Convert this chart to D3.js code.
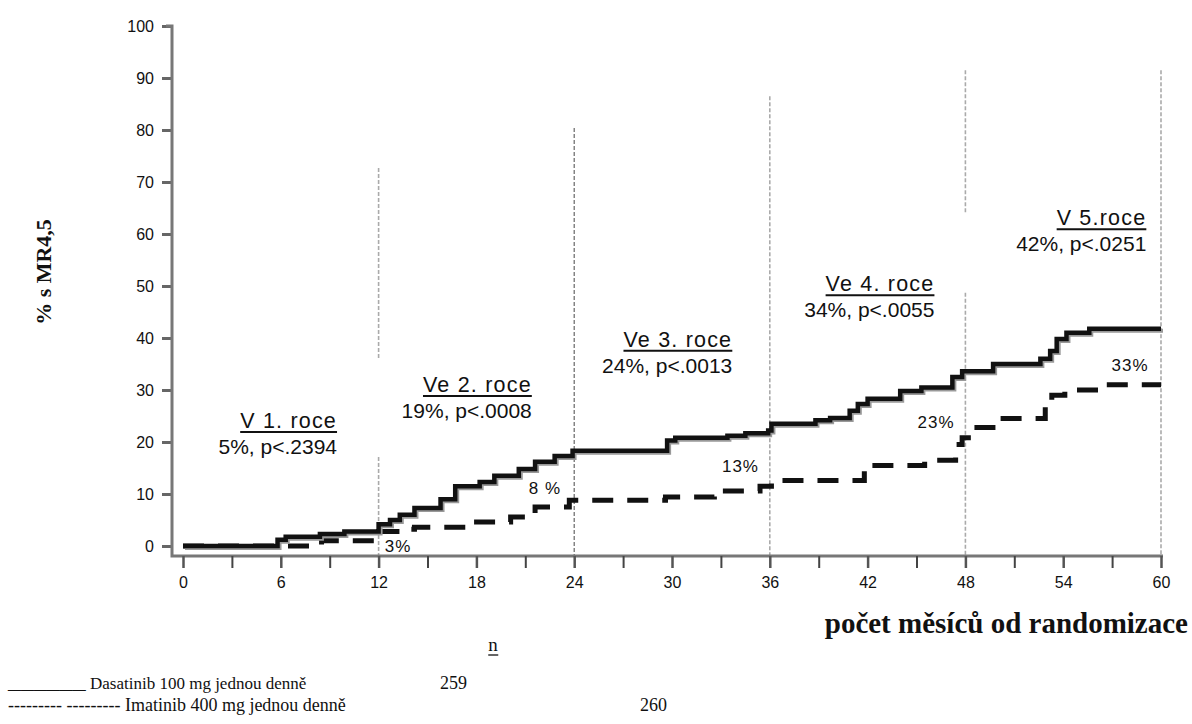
<!DOCTYPE html>
<html><head><meta charset="utf-8">
<script src="https://cdn.jsdelivr.net/npm/d3@7"></script>
<style>body{margin:0;background:#fff}svg{display:block}</style>
</head><body>
<svg id="c" width="1192" height="724"></svg>
<script>
// ---- data ----
const yTicks = [0,10,20,30,40,50,60,70,80,90,100];
const xTickLabels = [0,6,12,18,24,30,36,42,48,54,60];
const xMinorTicks = [3,9,15,21,27,33,39,45,51,57];
const yearLines = [12,24,36,48,60];

const dasaMonths = [0,5.8,6.3,8.4,9.9,12.0,12.7,13.3,14.2,15.8,16.7,18.2,19.1,20.6,21.6,22.8,23.9,29.7,30.2,33.4,34.5,35.9,36.1,38.8,39.7,40.9,41.4,42.0,44.0,45.3,47.2,47.8,49.7,52.6,53.2,53.6,54.2,55.6,60];
const dasaValues = [0,1.2,1.8,2.3,2.8,4.2,5.0,6.0,7.3,9.0,11.5,12.3,13.5,14.8,16.2,17.3,18.3,20.3,20.8,21.2,21.7,22.2,23.5,24.2,24.6,26.0,27.3,28.3,29.8,30.5,32.5,33.6,35.0,36.0,37.5,39.8,41.0,41.8,41.8];

const imaMonths = [0,8.5,12.0,13.7,14.2,17.6,20.1,21.6,23.7,29.6,32.6,35.4,36.1,41.8,45.5,47.4,47.8,48.4,50.1,52.9,53.3,54.1,56.3,60];
const imaValues = [0,1.0,2.8,3.2,3.6,4.6,5.6,7.5,8.8,9.4,10.6,11.5,12.6,15.5,16.5,19.5,20.8,22.8,24.5,27.5,29.0,30.0,31.0,31.0];

const pctLabels = ["3%","8 %","13%","23%","33%"];
const pctMonths = [13.2,22.2,34.2,46.2,58.1];
const pctValues = [-0.3,10.8,15.0,23.5,34.6];

const annoTitles = ["V 1. roce","Ve 2. roce","Ve 3. roce","Ve 4. roce","V 5.roce"];
const annoStats = ["5%, p<.2394","19%, p<.0008","24%, p<.0013","34%, p<.0055","42%, p<.0251"];
const annoMonths = [9.45,21.4,33.7,46.1,59.1];
const annoValues = [22.7,29.6,38.3,49.0,61.7];

const yLabel = "% s MR4,5";
const xLabel = "počet měsíců od randomizace";
const legendKeys = ["______","--------- ---------"];
const legendNames = ["Dasatinib 100 mg jednou denně","Imatinib 400 mg jednou denně"];
const legendN = ["259","260"];
const legendNHeader = "n";

// ---- layout ----
const svg = d3.select("#c");
const x = d3.scaleLinear().domain([0,60]).range([183,1161]);
const y = d3.scaleLinear().domain([0,100]).range([546,26]);
const axisY = 556, axisX = 172;
const narrow = "'Liberation Sans Narrow','Arial Narrow',sans-serif";
const serif = "'Liberation Serif','Times New Roman',serif";
const sans = "'Liberation Sans',Arial,sans-serif";

// year reference lines (segments in value units)
const refSegs = {12:[[72.7,35.8],[17.1,-2]],24:[[80.4,-2]],36:[[86.5,-2]],48:[[91.5,64],[48.7,-2]],60:[[91.5,-2]]};
const gRef = svg.append("g");
yearLines.forEach(m=>{
  refSegs[m].forEach(s=>{
    gRef.append("line").attr("x1",x(m)).attr("x2",x(m))
      .attr("y1",y(s[0])).attr("y2",Math.min(y(s[1]),axisY))
      .attr("stroke", m===24? "#666":"#aaa").attr("stroke-width", m===24?1.2:1.6)
      .attr("stroke-dasharray","4,2");
  });
});

// axes
const yAxis = d3.axisLeft(y).tickValues(yTicks).tickSize(10).tickPadding(8);
const gy = svg.append("g").attr("transform",`translate(${axisX},0)`).call(yAxis);
gy.select(".domain").remove();
gy.selectAll(".tick line").attr("stroke","#666").attr("stroke-width",3);
gy.selectAll(".tick text").attr("font-family",narrow).attr("font-size",16).attr("fill","#111");
svg.append("path").attr("d",`M${axisX-6},${y(100)}H${axisX}V${axisY}H${x(60)+2}`)
  .attr("fill","none").attr("stroke","#777").attr("stroke-width",3);

const xAxis = d3.axisBottom(x).tickValues(xTickLabels).tickSize(12).tickPadding(9);
const gx = svg.append("g").attr("transform",`translate(0,${axisY})`).call(xAxis);
gx.select(".domain").remove();
gx.selectAll(".tick line").attr("stroke","#555").attr("stroke-width",2.5);
gx.selectAll(".tick text").attr("font-family",narrow).attr("font-size",16).attr("fill","#111");
const xMin = d3.axisBottom(x).tickValues(xMinorTicks).tickSize(12).tickFormat("");
const gxm = svg.append("g").attr("transform",`translate(0,${axisY})`).call(xMin);
gxm.select(".domain").remove();
gxm.selectAll(".tick line").attr("stroke","#444").attr("stroke-width",2);

// curves
const line = d3.line().x(d=>x(d[0])).y(d=>y(d[1])).curve(d3.curveStepAfter);
const ima = imaMonths.map((m,i)=>[m,imaValues[i]]);
const dasa = dasaMonths.map((m,i)=>[m,dasaValues[i]]);
svg.append("path").datum(ima).attr("d",line).attr("fill","none")
  .attr("stroke","#111").attr("stroke-width",5).attr("stroke-dasharray","21,14");
svg.append("path").datum(dasa).attr("d",line).attr("fill","none")
  .attr("stroke","#999").attr("stroke-width",4).attr("transform","translate(2,2)");
svg.append("path").datum(dasa).attr("d",line).attr("fill","none")
  .attr("stroke","#111").attr("stroke-width",4.5);

// percent labels
pctLabels.forEach((t,i)=>{
  svg.append("text").attr("x",x(pctMonths[i])).attr("y",y(pctValues[i]))
    .attr("text-anchor","middle").attr("dominant-baseline","middle")
    .attr("font-family",narrow).attr("font-size",17).attr("letter-spacing",1).attr("fill","#111").text(t);
});

// annotations
annoTitles.forEach((t,i)=>{
  const tx = svg.append("text").attr("x",x(annoMonths[i])).attr("y",y(annoValues[i]))
    .attr("text-anchor","end").attr("font-family",sans).attr("letter-spacing",1.2)
    .attr("font-size",21.5).attr("fill","#111").text(t);
  const bb = tx.node().getBBox();
  svg.append("line").attr("x1",bb.x).attr("x2",x(annoMonths[i]))
    .attr("y1",y(annoValues[i])+4).attr("y2",y(annoValues[i])+4)
    .attr("stroke","#111").attr("stroke-width",2);
  svg.append("text").attr("x",x(annoMonths[i])).attr("y",y(annoValues[i])+26)
    .attr("text-anchor","end").attr("font-family",sans)
    .attr("font-size",21).attr("fill","#111").text(annoStats[i]);
});

// axis titles
svg.append("text").attr("transform","translate(51,272) rotate(-90)")
  .attr("text-anchor","middle").attr("font-family",serif)
  .attr("font-weight","bold").attr("font-size",22).attr("fill","#111").text(yLabel);
svg.append("text").attr("x",1188).attr("y",633).attr("text-anchor","end")
  .attr("font-family",serif)
  .attr("font-weight","bold").attr("font-size",29).attr("fill","#111").text(xLabel);

// legend
const nT = svg.append("text").attr("x",493).attr("y",651).attr("text-anchor","middle")
  .attr("font-family",serif).attr("font-size",19).attr("fill","#111").text(legendNHeader);
const nb = nT.node().getBBox();
svg.append("line").attr("x1",nb.x).attr("x2",nb.x+nb.width).attr("y1",655).attr("y2",655)
  .attr("stroke","#111").attr("stroke-width",1.3);
const legY = [689,711];
const legNX = [440,640];
// row 1: long underline key, stretched horizontally
svg.append("text").attr("transform",`translate(8,${legY[0]}) scale(1.44,1)`)
  .attr("font-family",serif).attr("font-size",18).attr("fill","#111").text(legendKeys[0]);
svg.append("text").attr("x",90).attr("y",legY[0]).attr("font-family",serif)
  .attr("font-size",17).attr("fill","#111").text(legendNames[0]);
// row 2: dashed key + name
svg.append("text").attr("x",8).attr("y",legY[1]).attr("font-family",serif)
  .attr("font-size",18).attr("fill","#111").text(legendKeys[1]+" "+legendNames[1]);
legendN.forEach((t,i)=>{
  svg.append("text").attr("x",legNX[i]).attr("y",legY[i]).attr("font-family",serif)
    .attr("font-size",18).attr("fill","#111").text(t);
});
</script>
</body></html>
